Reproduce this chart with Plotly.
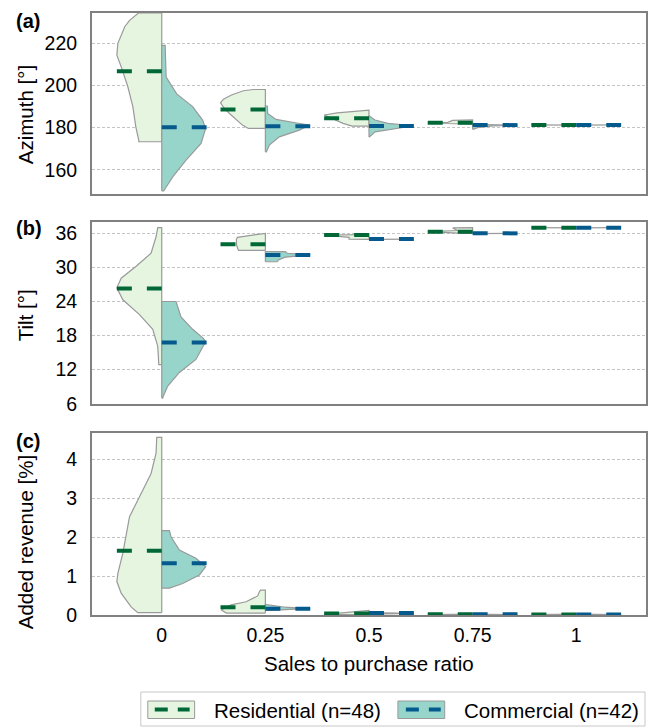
import plotly.graph_objects as go

# ---------------- data ----------------
categories = ["0", "0.25", "0.5", "0.75", "1"]

# relative density widths (max = 45) along value levels, per category
az_res_y = [[173.3, 174, 180.4, 190, 199.4, 208, 214.4, 220, 228, 231, 234.5],
            [179.6, 181.2, 184, 186.7, 189, 191.8, 193.5, 195.5, 197.5, 198.1],
            [180.7, 182, 184, 186, 187, 187.8, 188.3],
            [181.6, 181.9, 182.2, 182.5, 183.4, 183.7],
            [181.2, 181.3, 181.4]]
az_res_d = [[23, 23, 26, 29, 34, 40, 45, 44, 37, 32, 23],
            [17, 23, 30, 36, 41, 45, 42, 34, 22, 12],
            [17, 26, 36, 45, 32, 15, 3],
            [0, 25, 45, 25, 20, 0],
            [0, 45, 0]]
az_com_y = [[150, 151, 156.6, 164.6, 172.5, 179.6, 183.6, 190, 196, 204, 210, 219],
            [168.5, 171.7, 175.6, 178.8, 181.2, 182.3, 183.9, 186.7, 190.2],
            [175.6, 178, 179.6, 180.9, 182, 183.6, 185.5],
            [179.2, 180, 180.8, 181.2, 181.5],
            [181.2, 181.3, 181.4]]
az_com_d = [[2, 3.4, 11, 24.4, 39.4, 44, 41, 31, 15, 4.4, 3.8, 3.4],
            [1, 4, 14, 34, 44, 30, 10.7, 2.3, 2],
            [0.5, 6, 26, 45, 19, 6, 0.5],
            [0.5, 5, 20, 45, 0],
            [0, 45, 0]]
az_res_med = [206.8, 188.6, 184.4, 182.3, 181.3]
az_com_med = [180.2, 180.6, 180.8, 181.2, 181.3]

tilt_res_y = [[12.9, 13, 16.1, 19.1, 21.7, 24.3, 26.4, 28.1, 30.2, 32.5, 35.4, 37.0],
              [33.0, 33.5, 34.0, 34.5, 35.0, 35.3, 35.6, 36.0],
              [34.95, 35.0, 35.3, 35.7, 35.8],
              [36.0, 36.3, 36.5, 36.95, 37.0],
              [36.95, 37.0, 37.05]]
tilt_res_d = [[3, 3, 4, 9, 22.3, 39, 45, 40.7, 25.7, 10.7, 5.7, 4],
              [27, 28, 29, 29, 29, 28, 15, 1],
              [0, 20, 20, 45, 0],
              [10, 45, 15, 20, 0],
              [0, 45, 0]]
tilt_com_y = [[7.0, 7.1, 9.1, 11.5, 13.8, 16.9, 17.5, 19.1, 21.3, 24.0],
              [31.0, 31.3, 31.8, 32.2, 32.5, 32.8],
              [34.95, 35.0, 35.05],
              [35.95, 36.0, 36.05],
              [36.95, 37.0, 37.05]]
tilt_com_d = [[1, 1, 6, 17.7, 34.3, 44, 41.7, 31, 19.3, 14.3],
              [12, 13, 20, 45, 22, 20],
              [0, 45, 0],
              [0, 45, 0],
              [0, 45, 0]]
tilt_res_med = [26.3, 34.1, 35.7, 36.3, 37.0]
tilt_com_med = [16.8, 32.2, 35.0, 36.0, 37.0]

rev_res_y = [[0.06, 0.21, 0.56, 0.86, 1.07, 1.59, 2.10, 2.53, 3.04, 3.64, 4.16, 4.57],
             [0.05, 0.13, 0.26, 0.34, 0.49, 0.60, 0.64],
             [0.0, 0.02, 0.05, 0.1, 0.12],
             [0.0, 0.01, 0.02],
             [0.0, 0.01, 0.02]]
rev_res_d = [[24, 30.7, 40.7, 45, 44, 39, 35.7, 32.3, 22.3, 10.7, 5.7, 5],
             [39, 44.3, 34.3, 19.3, 7.7, 6, 5],
             [0, 45, 30, 5, 0],
             [0, 45, 0],
             [0, 45, 0]]
rev_com_y = [[0.69, 0.81, 1.03, 1.24, 1.46, 1.67, 2.01, 2.17],
             [0.12, 0.15, 0.16, 0.2, 0.27],
             [0.02, 0.04, 0.06],
             [0.0, 0.01, 0.02],
             [0.0, 0.01, 0.02]]
rev_com_d = [[7.7, 21, 37.7, 44, 34.3, 17.7, 9.3, 7.7],
             [5, 30, 45, 20, 3],
             [0, 45, 0],
             [0, 45, 0],
             [0, 45, 0]]
rev_res_med = [1.65, 0.20, 0.04, 0.02, 0.01]
rev_com_med = [1.33, 0.16, 0.05, 0.02, 0.01]

y_titles = ["Azimuth [°]", "Tilt [°]", "Added revenue [%]"]
panel_labels = ["(a)", "(b)", "(c)"]
az_ticks = [160, 180, 200, 220]
tilt_ticks = [6, 12, 18, 24, 30, 36]
rev_ticks = [0, 1, 2, 3, 4]
legend_labels = ["Residential (n=48)", "Commercial (n=42)"]
x_title = "Sales to purchase ratio"

# ---------------- styling ----------------
FONT = "Liberation Sans, Arial, Helvetica, sans-serif"
RES_FILL = "#e5f5e0"
COM_FILL = "#97d5cb"
RES_LINE = "#006837"
COM_LINE = "#045a8d"
OUTLINE = "#9a9a9a"
MAXW = 0.433  # half width in category units
DMAX = 45.0

W, H = 657, 727
ML, MR, MT, MB = 92, 9, 13, 112
PW, PH = W - ML - MR, H - MT - MB


def px2x(px):
    return (px - ML) / PW


def px2y(py):
    return (H - MB - py) / PH


fig = go.Figure()

panels = [
    (az_res_y, az_res_d, az_com_y, az_com_d, az_res_med, az_com_med),
    (tilt_res_y, tilt_res_d, tilt_com_y, tilt_com_d, tilt_res_med, tilt_com_med),
    (rev_res_y, rev_res_d, rev_com_y, rev_com_d, rev_res_med, rev_com_med),
]

for p, (ry, rd, cy, cd, rm, cm) in enumerate(panels):
    xa = "x" if p == 0 else f"x{p+1}"
    ya = "y" if p == 0 else f"y{p+1}"
    for i in range(len(categories)):
        for ys, ds, sign, fill in ((ry[i], rd[i], -1, RES_FILL), (cy[i], cd[i], 1, COM_FILL)):
            xs = [i] + [i + sign * d / DMAX * MAXW for d in ds] + [i, i]
            yy = [ys[0]] + list(ys) + [ys[-1], ys[0]]
            fig.add_trace(go.Scatter(x=xs, y=yy, mode="lines", fill="toself",
                                     fillcolor=fill, line=dict(color=OUTLINE, width=1.2),
                                     hoverinfo="skip", showlegend=False,
                                     xaxis=xa, yaxis=ya))
    for i in range(len(categories)):
        fig.add_trace(go.Scatter(x=[i - MAXW, i], y=[rm[i], rm[i]], mode="lines",
                                 line=dict(color=RES_LINE, width=4, dash="15px,15px"),
                                 hoverinfo="skip", showlegend=False, xaxis=xa, yaxis=ya))
        fig.add_trace(go.Scatter(x=[i, i + MAXW], y=[cm[i], cm[i]], mode="lines",
                                 line=dict(color=COM_LINE, width=4, dash="15px,15px"),
                                 hoverinfo="skip", showlegend=False, xaxis=xa, yaxis=ya))

domains = [[px2y(194), 1.0], [px2y(404), px2y(222)], [0.0, px2y(433)]]
ranges = [[148.5, 234.4], [5.95, 38.0], [0, 4.68]]
ticks = [az_ticks, tilt_ticks, rev_ticks]

axis_common = dict(showline=True, mirror=True, linecolor="#808080", linewidth=2,
                   zeroline=False, tickfont=dict(family=FONT, size=19.5, color="#000"))

layout = dict(width=W, height=H, margin=dict(l=ML, r=MR, t=MT, b=MB),
              plot_bgcolor="white", paper_bgcolor="white",
              font=dict(family=FONT, color="#000"), showlegend=False)
for p in range(3):
    xk = "xaxis" if p == 0 else f"xaxis{p+1}"
    yk = "yaxis" if p == 0 else f"yaxis{p+1}"
    layout[xk] = dict(axis_common, domain=[0, 1], range=[-0.673, 4.673],
                      tickvals=list(range(len(categories))), ticktext=categories,
                      showticklabels=(p == 2), showgrid=False, ticks="",
                      ticklabelstandoff=2,
                      anchor="y" if p == 0 else f"y{p+1}")
    layout[yk] = dict(axis_common, domain=domains[p], range=ranges[p],
                      tickvals=ticks[p], showgrid=True, gridcolor="#c4c4c4",
                      griddash="3px,2px", gridwidth=1, ticks="",
                      ticklabelstandoff=9,
                      anchor="x" if p == 0 else f"x{p+1}")
fig.update_layout(**layout)

annotations = []
title_centers = [115, 315, 542]
label_y = [20.5, 227.5, 441]
for p in range(3):
    annotations.append(dict(x=px2x(25), y=px2y(title_centers[p]), xref="paper", yref="paper",
                            text=y_titles[p], textangle=-90, showarrow=False,
                            xanchor="center", yanchor="middle",
                            font=dict(family=FONT, size=20.5, color="#000")))
    annotations.append(dict(x=px2x(14), y=px2y(label_y[p]), xref="paper", yref="paper",
                            text=f"<b>{panel_labels[p]}</b>", showarrow=False,
                            xanchor="left", yanchor="middle",
                            font=dict(family=FONT, size=20, color="#000")))
annotations.append(dict(x=0.5, y=px2y(663), xref="paper", yref="paper", text=x_title,
                        showarrow=False, xanchor="center", yanchor="middle",
                        font=dict(family=FONT, size=20.5, color="#000")))
annotations.append(dict(x=px2x(212), y=px2y(710), xref="paper", yref="paper",
                        text=legend_labels[0], showarrow=False, xanchor="left",
                        yanchor="middle", font=dict(family=FONT, size=20.5, color="#000")))
annotations.append(dict(x=px2x(463), y=px2y(710), xref="paper", yref="paper",
                        text=legend_labels[1], showarrow=False, xanchor="left",
                        yanchor="middle", font=dict(family=FONT, size=20.5, color="#000")))

shapes = [
    dict(type="rect", xref="paper", yref="paper", x0=px2x(141), x1=px2x(647),
         y0=px2y(692), y1=px2y(726), line=dict(color="#c8c8c8", width=1), fillcolor="white"),
    dict(type="rect", xref="paper", yref="paper", x0=px2x(148), x1=px2x(195),
         y0=px2y(701), y1=px2y(718.5), line=dict(color=OUTLINE, width=1), fillcolor=RES_FILL),
    dict(type="line", xref="paper", yref="paper", x0=px2x(155), x1=px2x(190),
         y0=px2y(709.5), y1=px2y(709.5), line=dict(color=RES_LINE, width=4, dash="13px,10px")),
    dict(type="rect", xref="paper", yref="paper", x0=px2x(399), x1=px2x(446),
         y0=px2y(701), y1=px2y(718.5), line=dict(color=OUTLINE, width=1), fillcolor=COM_FILL),
    dict(type="line", xref="paper", yref="paper", x0=px2x(407), x1=px2x(442),
         y0=px2y(709.5), y1=px2y(709.5), line=dict(color=COM_LINE, width=4, dash="13px,10px")),
]
fig.update_layout(annotations=annotations, shapes=shapes)

fig.write_html("out.html")
